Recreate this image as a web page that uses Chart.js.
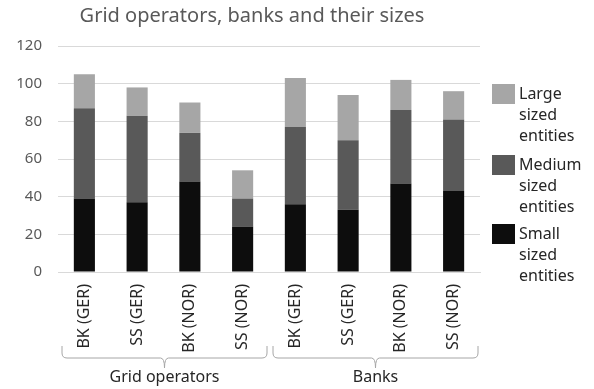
<!DOCTYPE html>
<html>
<head>
<meta charset="utf-8">
<script src="https://cdn.jsdelivr.net/npm/chart.js@4"></script>
<style>
  html, body { margin: 0; padding: 0; background: #fff; }
  #wrap { width: 594px; height: 389px; }
</style>
</head>
<body>
<div id="wrap"><canvas id="sizesChart" width="594" height="389"></canvas></div>
<script>
const categories = ['BK (GER)', 'SS (GER)', 'BK (NOR)', 'SS (NOR)', 'BK (GER)', 'SS (GER)', 'BK (NOR)', 'SS (NOR)'];
const smallEntities = [39, 37, 48, 24, 36, 33, 47, 43];
const mediumEntities = [48, 46, 26, 15, 41, 37, 39, 38];
const largeEntities = [18, 15, 16, 15, 26, 24, 16, 15];
const groups = [
    { label: 'Grid operators', from: 0, to: 3 },
    { label: 'Banks', from: 4, to: 7 }
];
const yTicks = [0, 20, 40, 60, 80, 100, 120];

const FONT = "'Noto Sans', sans-serif";

// title drawn by hand, left of center like the original
const titlePlugin = {
    id: 'titleText',
    afterDraw(chart) {
        const c = chart.ctx;
        c.save();
        c.font = '20px ' + FONT;
        c.fillStyle = '#595959';
        c.textAlign = 'center';
        c.textBaseline = 'middle';
        c.fillText('Grid operators, banks and their sizes', 252, 16);
        c.restore();
    }
};

// braces + group names under the category labels
const groupPlugin = {
    id: 'groupBraces',
    afterDraw(chart) {
        const c = chart.ctx;
        const x = chart.scales.x;
        const half = (x.getPixelForValue(1) - x.getPixelForValue(0)) / 2;
        c.save();
        c.strokeStyle = '#a6a6a6';
        c.lineWidth = 1;
        groups.forEach(g => {
            const l = x.getPixelForValue(g.from) - half + 4;
            const r = x.getPixelForValue(g.to) + half - 2;
            const m = (l + r) / 2;
            const top = 346, mid = 358, tip = 368;
            c.beginPath();
            c.moveTo(l, top);
            c.lineTo(l, mid - 5);
            c.quadraticCurveTo(l, mid, l + 5, mid);
            c.lineTo(m - 4, mid);
            c.quadraticCurveTo(m, mid, m, tip);
            c.quadraticCurveTo(m, mid, m + 4, mid);
            c.lineTo(r - 5, mid);
            c.quadraticCurveTo(r, mid, r, mid - 5);
            c.lineTo(r, top);
            c.stroke();
            c.font = '16px ' + FONT;
            c.fillStyle = '#262626';
            c.textAlign = 'center';
            c.textBaseline = 'middle';
            c.fillText(g.label, m, 377);
        });
        c.restore();
    }
};

// legend with one word per line
const legendPlugin = {
    id: 'stackedLegend',
    afterDraw(chart) {
        const c = chart.ctx;
        const ds = chart.data.datasets.slice().reverse();
        const starts = [84, 155, 224];
        c.save();
        c.font = '16px ' + FONT;
        c.textBaseline = 'middle';
        ds.forEach((d, i) => {
            const y0 = starts[i];
            c.fillStyle = d.backgroundColor;
            c.fillRect(492, y0, 23, 20);
            c.fillStyle = '#262626';
            d.label.split(' ').forEach((w, j) => {
                c.fillText(w, 519, y0 + 10 + j * 21);
            });
        });
        c.restore();
    }
};

new Chart(document.getElementById('sizesChart'), {
    type: 'bar',
    data: {
        labels: categories,
        datasets: [
            { label: 'Small sized entities', data: smallEntities, backgroundColor: '#0d0d0d' },
            { label: 'Medium sized entities', data: mediumEntities, backgroundColor: '#595959' },
            { label: 'Large sized entities', data: largeEntities, backgroundColor: '#a6a6a6' }
        ]
    },
    options: {
        responsive: false,
        animation: false,
        layout: { padding: { top: 46, right: 114, bottom: 0, left: 0 } },
        datasets: { bar: { categoryPercentage: 0.8, barPercentage: 0.5 } },
        plugins: {
            legend: { display: false },
            title: { display: false },
            tooltip: { enabled: false }
        },
        scales: {
            x: {
                stacked: true,
                grid: { display: false },
                border: { color: '#d9d9d9' },
                ticks: {
                    minRotation: 90,
                    maxRotation: 90,
                    padding: 4,
                    color: '#262626',
                    font: { family: FONT, size: 16 }
                },
                afterFit(s) { s.height = 389 - 272; }
            },
            y: {
                stacked: true,
                min: 0,
                max: 120,
                afterBuildTicks(s) { s.ticks = yTicks.map(v => ({ value: v })); },
                grid: { color: '#d9d9d9', drawTicks: false },
                border: { display: false },
                ticks: {
                    padding: 16,
                    color: '#595959',
                    font: { family: FONT, size: 15 }
                },
                afterFit(s) { s.width = 58; }
            }
        }
    },
    plugins: [titlePlugin, groupPlugin, legendPlugin]
});
</script>
</body>
</html>
